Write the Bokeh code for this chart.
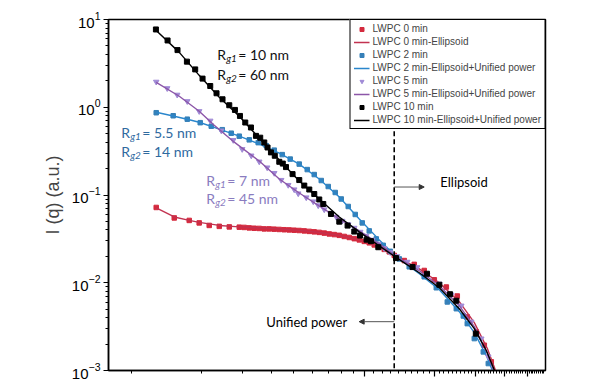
from bokeh.plotting import figure
from bokeh.models import Legend, LegendItem, Label, Arrow, NormalHead, Range1d, CustomJSTickFormatter
from bokeh.embed import file_html
from bokeh.resources import INLINE

# ---------------- data (q in 1/Å, I in a.u.) ----------------
q_0min = [6.41e-3, 7.66e-3, 8.88e-3, 9.80e-3, 1.082e-2, 1.195e-2, 1.319e-2, 1.456e-2, 1.529e-2,
          1.607e-2, 1.688e-2, 1.774e-2, 1.863e-2, 1.958e-2, 2.057e-2, 2.161e-2, 2.271e-2, 2.386e-2,
          2.506e-2, 2.633e-2, 2.767e-2, 2.907e-2, 3.054e-2, 3.208e-2, 3.371e-2, 3.542e-2, 3.721e-2,
          3.909e-2, 4.107e-2, 4.315e-2, 4.534e-2, 4.763e-2, 5.005e-2, 5.258e-2, 5.524e-2, 5.804e-2,
          6.098e-2, 6.407e-2, 6.731e-2, 7.430e-2, 8.201e-2, 9.053e-2, 0.1000, 0.1126, 0.1255,
          0.1385, 0.1514, 0.1639, 0.1756]
I_0min = [0.0721, 0.0548, 0.0513, 0.0481, 0.0450, 0.0439, 0.0433, 0.0430, 0.0427,
          0.0422, 0.0418, 0.0416, 0.0411, 0.0411, 0.0408, 0.0405, 0.0402, 0.0400,
          0.0397, 0.0394, 0.0390, 0.0385, 0.0380, 0.0375, 0.0368, 0.0360, 0.0354,
          0.0347, 0.0337, 0.0328, 0.0318, 0.0308, 0.0296, 0.0285, 0.0270, 0.0256,
          0.0240, 0.0225, 0.0205, 0.0179, 0.0162, 0.0138, 0.0108, 0.00894, 0.00706,
          0.00408, 0.00275, 0.00194, 0.001256]
qfit_0min = [6.41e-3, 7.66e-3, 8.88e-3, 9.80e-3, 1.195e-2, 1.456e-2, 1.774e-2, 2.162e-2, 2.634e-2,
             3.209e-2, 3.911e-2, 4.765e-2, 5.807e-2, 6.80e-2, 8.62e-2, 0.1051, 0.1280, 0.1485,
             0.1689, 0.1845]
Ifit_0min = [0.0712, 0.0562, 0.0513, 0.0487, 0.0450, 0.0433, 0.0422, 0.0411, 0.0395,
             0.0375, 0.0347, 0.0308, 0.0256, 0.02027, 0.01442, 0.0100, 0.00608, 0.00351,
             0.00178, 0.000949]

q_2min = [6.41e-3, 7.58e-3, 8.71e-3, 9.90e-3, 1.104e-2, 1.231e-2, 1.345e-2, 1.456e-2, 1.607e-2,
          1.756e-2, 1.901e-2, 2.057e-2, 2.226e-2, 2.409e-2, 2.633e-2, 2.850e-2, 3.054e-2, 3.273e-2,
          3.507e-2, 3.758e-2, 3.987e-2, 4.273e-2, 4.579e-2, 4.907e-2, 5.258e-2, 5.635e-2, 6.038e-2,
          6.470e-2, 7.072e-2, 7.806e-2, 9.053e-2, 0.1020, 0.1137, 0.1243, 0.1332, 0.1385, 0.1485,
          0.1623, 0.1705]
I_2min = [0.866, 0.800, 0.731, 0.667, 0.608, 0.555, 0.506, 0.468, 0.425,
          0.395, 0.365, 0.3246, 0.2885, 0.2565, 0.2250, 0.1949, 0.1710, 0.1462,
          0.1249, 0.1068, 0.0901, 0.0740, 0.0600, 0.0481, 0.0390, 0.0316, 0.0267,
          0.0228, 0.0187, 0.0152, 0.0117, 0.00877, 0.00604, 0.00506, 0.00418, 0.00342, 0.00231,
          0.00163, 0.00120]
qfit_2min = [6.41e-3, 7.66e-3, 8.88e-3, 9.80e-3, 1.195e-2, 1.456e-2, 1.774e-2, 2.162e-2, 2.634e-2,
             3.209e-2, 3.911e-2, 4.765e-2, 5.807e-2, 6.80e-2, 8.62e-2, 0.1051, 0.1280, 0.1485,
             0.1672, 0.1774]
Ifit_2min = [0.877, 0.790, 0.721, 0.675, 0.562, 0.468, 0.380, 0.300, 0.225,
             0.152, 0.0949, 0.0534, 0.0308, 0.02027, 0.01266, 0.00833, 0.00468, 0.00270,
             0.00148, 0.00100]

q_5min = [6.41e-3, 7.145e-3, 7.887e-3, 8.71e-3, 9.80e-3, 1.093e-2, 1.219e-2, 1.372e-2, 1.499e-2,
          1.639e-2, 1.774e-2, 1.919e-2, 2.057e-2, 2.204e-2, 2.362e-2, 2.506e-2, 2.607e-2, 2.822e-2,
          3.024e-2, 3.177e-2, 3.371e-2, 3.577e-2, 3.795e-2, 4.027e-2, 4.273e-2, 4.534e-2, 4.811e-2,
          5.105e-2, 5.416e-2, 5.747e-2, 6.098e-2, 6.470e-2, 6.934e-2, 7.653e-2, 8.448e-2, 9.325e-2,
          0.1051, 0.1183, 0.1306, 0.1441, 0.1591, 0.1705]
I_5min = [1.949, 1.644, 1.387, 1.170, 0.901, 0.702, 0.541, 0.422, 0.333,
          0.281, 0.240, 0.2054, 0.1778, 0.1481, 0.1299, 0.1155, 0.1040, 0.0937,
          0.0843, 0.0760, 0.0684, 0.0624, 0.0562, 0.0507, 0.0462, 0.0422, 0.0380,
          0.0342, 0.0308, 0.0277, 0.0247, 0.0222, 0.0200, 0.0173, 0.0150, 0.01232,
          0.00974, 0.00730, 0.00548, 0.00360, 0.00231, 0.00144]
qfit_5min = [6.41e-3, 8.05e-3, 9.80e-3, 1.137e-2, 1.386e-2, 1.774e-2, 2.162e-2, 2.634e-2, 3.209e-2,
             3.911e-2, 4.765e-2, 5.807e-2, 6.80e-2, 8.62e-2, 0.1051, 0.1280, 0.1485, 0.1689, 0.1809]
Ifit_5min = [1.923, 1.334, 0.901, 0.624, 0.400, 0.2434, 0.1520, 0.1054, 0.0750,
             0.0534, 0.0390, 0.0277, 0.02027, 0.01369, 0.00924, 0.00548, 0.00316, 0.00156, 0.000949]

q_10min = [6.39e-3, 7.17e-3, 7.91e-3, 8.68e-3, 9.42e-3, 1.013e-2, 1.093e-2, 1.163e-2, 1.234e-2,
           1.319e-2, 1.395e-2, 1.466e-2, 1.545e-2, 1.634e-2, 1.717e-2, 1.791e-2, 1.864e-2, 1.925e-2,
           1.991e-2, 2.068e-2, 2.162e-2, 2.238e-2, 2.310e-2, 2.465e-2, 2.634e-2, 2.768e-2, 2.908e-2,
           3.055e-2, 3.209e-2, 3.339e-2, 3.603e-2, 3.911e-2, 4.246e-2, 4.536e-2, 4.798e-2, 5.122e-2,
           5.350e-2, 5.751e-2, 6.849e-2, 8.07e-2, 9.30e-2, 0.1051, 0.1168, 0.1243, 0.1507]
I_10min = [7.70, 5.77, 4.48, 3.31, 2.70, 2.12, 1.746, 1.443, 1.233,
           1.054, 0.932, 0.796, 0.670, 0.588, 0.472, 0.450, 0.397, 0.348,
           0.306, 0.280, 0.239, 0.228, 0.208, 0.173, 0.148, 0.128, 0.1155,
           0.1026, 0.0889, 0.0790, 0.0608, 0.0497, 0.0448, 0.0383, 0.0345, 0.0310,
           0.0298, 0.0254, 0.0191, 0.01509, 0.01266, 0.00949, 0.00740, 0.00624, 0.00263]
qfit_10min = [6.41e-3, 8.05e-3, 9.80e-3, 1.195e-2, 1.456e-2, 1.774e-2, 2.162e-2, 2.634e-2, 3.209e-2,
              3.911e-2, 4.765e-2, 5.807e-2, 6.80e-2, 8.62e-2, 0.1051, 0.1280, 0.1485, 0.1672, 0.1827]
Ifit_10min = [7.50, 4.22, 2.31, 1.299, 0.790, 0.444, 0.250, 0.1442, 0.0901,
              0.0562, 0.0380, 0.0263, 0.01974, 0.01299, 0.00877, 0.00506, 0.00300, 0.00169, 0.000949]

legend_labels = ["LWPC 0 min", "LWPC 0 min-Ellipsoid",
                 "LWPC 2 min", "LWPC 2 min-Ellipsoid+Unified power",
                 "LWPC 5 min", "LWPC 5 min-Ellipsoid+Unified power",
                 "LWPC 10 min", "LWPC 10 min-Ellipsoid+Unified power"]

q_boundary = 6.73e-2
I_boundary_top = 0.534

# ---------------- figure ----------------
p = figure(x_axis_type="log", y_axis_type="log",
           x_range=Range1d(0.004, 0.3), y_range=Range1d(1e-3, 10),
           frame_width=437, frame_height=351,
           min_border_left=108, min_border_top=19, min_border_right=30, min_border_bottom=11,
           output_backend="svg", toolbar_location=None)
p.grid.visible = False
p.outline_line_color = "black"
p.outline_line_width = 1.5
p.outline_line_alpha = 1.0

FONT = "Liberation Sans"
ax = p.yaxis[0]
ax.axis_line_width = 1.5
ax.major_tick_in = 0
ax.major_tick_out = 5
ax.minor_tick_in = 0
ax.minor_tick_out = 3
ax.major_tick_line_width = 1.2
ax.major_label_text_font = FONT
ax.major_label_text_font_size = "15px"
ax.major_label_text_color = "black"
ax.major_label_standoff = 3
ax.axis_label = "I (q) (a.u.)"
ax.axis_label_text_font = FONT
ax.axis_label_text_font_size = "18px"
ax.axis_label_text_font_style = "normal"
ax.axis_label_standoff = 6

xa = p.xaxis[0]
xa.axis_line_width = 1.5
xa.major_tick_in = 0
xa.major_tick_out = 6
xa.minor_tick_in = 0
xa.minor_tick_out = 3
xa.major_tick_line_width = 1.2
xa.formatter = CustomJSTickFormatter(code="return ''")
xa.major_label_standoff = 0

RED_M, RED_L = "#d42a3e", "#c23250"
BLU_M, BLU_L = "#3680b8", "#2a86cc"
PUR_M, PUR_L = "#a08ad6", "#8c56a8"
BLK = "#000000"

r0 = p.scatter(q_0min, I_0min, marker="square", size=4.5, color=RED_M)
f0 = p.line(qfit_0min, Ifit_0min, line_color=RED_L, line_width=1.4)
r2 = p.scatter(q_2min, I_2min, marker="square", size=4.5, color=BLU_M)
f2 = p.line(qfit_2min, Ifit_2min, line_color=BLU_L, line_width=1.4)
r5 = p.scatter(q_5min, I_5min, marker="inverted_triangle", size=5.5, color=PUR_M)
f5 = p.line(qfit_5min, Ifit_5min, line_color=PUR_L, line_width=1.4)
r10 = p.scatter(q_10min, I_10min, marker="square", size=5, color=BLK)
f10 = p.line(qfit_10min, Ifit_10min, line_color=BLK, line_width=1.4)

# boundary between the two models
p.segment(x0=[q_boundary], y0=[I_boundary_top], x1=[q_boundary], y1=[1e-3],
          line_color="black", line_width=1.6, line_dash="5 3")
p.add_layout(Arrow(end=NormalHead(size=5, fill_color="#333333", line_color="#333333"),
                   x_start=q_boundary, y_start=0.1233, x_end=9.05e-2, y_end=0.1233,
                   line_color="#555555", line_width=1))
p.add_layout(Arrow(end=NormalHead(size=5, fill_color="#333333", line_color="#333333"),
                   x_start=q_boundary, y_start=3.6e-3, x_end=4.76e-2, y_end=3.6e-3,
                   line_color="#555555", line_width=1))

TF = "Lato"
p.add_layout(Label(x=0.1061, y=0.1405, text="Ellipsoid", text_font=TF, text_font_size="13px",
                   text_baseline="middle", text_color="black"))
p.add_layout(Label(x=1.901e-2, y=3.6e-3, text="Unified power", text_font=TF, text_font_size="13px",
                   text_baseline="middle", text_color="black"))


def rg_label(x, y, sub, rest, color):
    p.add_layout(Label(x=x, y=y, text="R", text_font=TF, text_font_size="14px",
                       text_baseline="middle", text_color=color))
    p.add_layout(Label(x=x, y=y, text=sub, text_font=TF, text_font_size="10px",
                       text_font_style="italic", text_baseline="middle", text_color=color,
                       x_offset=9, y_offset=-4))
    p.add_layout(Label(x=x, y=y, text=rest, text_font=TF, text_font_size="14px",
                       text_baseline="middle", text_color=color, x_offset=21))


rg_label(1.171e-2, 4.00, "g1", "= 10 nm", "#111111")
rg_label(1.171e-2, 2.371, "g2", "= 60 nm", "#111111")
rg_label(4.536e-3, 0.520, "g1", "= 5.5 nm", "#2f6a9f")
rg_label(4.536e-3, 0.3162, "g2", "= 14 nm", "#2f6a9f")
rg_label(1.0506e-2, 0.1481, "g1", "= 7 nm", "#8a7cbf")
rg_label(1.0506e-2, 0.0924, "g2", "= 45 nm", "#8a7cbf")

items = [LegendItem(label=lab, renderers=[r]) for lab, r in
         zip(legend_labels, [r0, f0, r2, f2, r5, f5, r10, f10])]
legend = Legend(items=items, location="top_right", border_line_color="black",
                border_line_width=1, border_line_alpha=1, background_fill_alpha=1,
                label_text_font=FONT, label_text_font_size="10px",
                glyph_width=16, glyph_height=10, label_height=10, label_standoff=3,
                spacing=2, padding=3, margin=0)
p.add_layout(legend)

open("out.html", "w").write(file_html(p, INLINE))
